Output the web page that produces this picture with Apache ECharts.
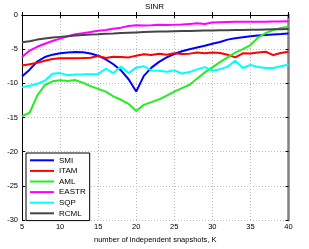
<!DOCTYPE html>
<html><head><meta charset="utf-8">
<script src="https://cdn.jsdelivr.net/npm/echarts@6/dist/echarts.min.js"></script>
<style>html,body{margin:0;padding:0;background:#fff}#c{width:309px;height:249px}</style>
</head><body><div id="c"></div>
<script>
var K = [5,6,7,8,9,10,11,12,13,14,15,16,17,18,19,20,21,22,23,24,25,26,27,28,29,30,31,32,33,34,35,36,37,38,39,40];
var SMI = [-9.0,-8.0,-6.8,-6.15,-5.8,-5.6,-5.48,-5.4,-5.45,-5.62,-5.95,-6.5,-7.2,-8.1,-9.4,-11.2,-8.9,-7.7,-6.85,-6.2,-5.7,-5.3,-5.0,-4.75,-4.5,-4.2,-3.95,-3.6,-3.4,-3.25,-3.1,-3.0,-2.92,-2.85,-2.78,-2.7];
var ITAM = [-7.38,-7.2,-7.0,-6.7,-6.45,-6.33,-6.33,-6.33,-6.3,-6.25,-6.0,-6.3,-6.1,-6.15,-6.2,-5.95,-5.75,-5.85,-5.67,-5.8,-5.6,-5.7,-5.65,-5.5,-5.6,-5.5,-5.55,-5.8,-6.2,-5.6,-5.62,-5.5,-5.38,-5.86,-5.55,-5.38];
var AML = [-14.8,-14.3,-11.8,-10.24,-9.7,-9.55,-9.65,-9.52,-9.9,-10.4,-10.8,-11.2,-11.9,-12.4,-13.0,-14.05,-13.15,-12.75,-12.35,-11.8,-11.2,-10.7,-10.2,-9.3,-8.4,-7.65,-6.9,-6.2,-5.5,-5.0,-4.4,-3.3,-2.65,-2.2,-1.9,-1.7];
var EASTR = [-6.15,-5.2,-4.65,-4.2,-3.8,-3.45,-3.1,-2.8,-2.65,-2.5,-2.3,-2.2,-2.0,-1.85,-1.6,-1.5,-1.52,-1.5,-1.43,-1.45,-1.42,-1.38,-1.3,-1.22,-1.33,-1.1,-1.05,-1.02,-1.0,-1.0,-1.0,-0.98,-0.97,-0.96,-0.95,-0.92];
var SQP = [-10.55,-10.35,-10.05,-9.6,-8.6,-8.5,-8.8,-8.7,-8.68,-8.65,-8.62,-7.86,-8.5,-7.55,-8.5,-7.7,-7.5,-8.1,-8.15,-8.3,-8.1,-8.55,-8.35,-7.95,-7.62,-8.15,-7.95,-7.55,-6.7,-7.75,-7.3,-7.6,-7.76,-7.76,-7.5,-7.24];
var RCML = [-4.0,-3.85,-3.6,-3.45,-3.3,-3.2,-3.1,-3.0,-2.92,-2.85,-2.8,-2.74,-2.7,-2.65,-2.6,-2.55,-2.5,-2.46,-2.42,-2.4,-2.37,-2.35,-2.33,-2.3,-2.28,-2.26,-2.24,-2.22,-2.2,-2.18,-2.16,-2.14,-2.12,-2.1,-2.08,-2.05];
var names = ['SMI','ITAM','AML','EASTR','SQP','RCML'];
var colors = ['#0000ff','#ff0000','#22ee22','#ff00ff','#00ffff','#454545'];
var values = [SMI, ITAM, AML, EASTR, SQP, RCML];
var title = 'SINR';
var xLabel = 'number of independent snapshots, K';

var FONT = 'Liberation Sans';
function pairs(v){ return K.map(function(k,i){ return [k, v[i]]; }); }
var series = names.map(function(n,i){
  return {name:n, type:'line', xAxisIndex:0, yAxisIndex:0, data:pairs(values[i]), symbol:'none',
    lineStyle:{color:colors[i], width:2}, itemStyle:{color:colors[i]}, z: 10+i, animation:false};
});
var chart = echarts.init(document.getElementById('c'), null, {renderer:'canvas'});
chart.setOption({
  animation:false,
  backgroundColor:'#fff',
  title:{text:title, left:'center', top:3, padding:0, textStyle:{fontFamily:FONT, fontSize:8, fontWeight:'normal', color:'#000'}},
  grid:{left:22, right:20.5, top:15, bottom:24, containLabel:false},
  legend:{orient:'vertical', left:26, top:153, data:names, icon:'rect', itemWidth:24, itemHeight:2, itemGap:0,
    padding:[2,4,2,4], backgroundColor:'#fff', borderColor:'#000', borderWidth:1, borderRadius:0,
    textStyle:{fontFamily:FONT, fontSize:8, color:'#000', lineHeight:10.6, padding:[0,0,0,0]}},
  xAxis:[
    {type:'value', min:5, max:40, interval:5, position:'bottom', name:xLabel, nameLocation:'middle', nameGap:14,
     nameTextStyle:{fontFamily:FONT, fontSize:7.5, color:'#000'},
     axisLine:{show:true, lineStyle:{color:'#000', width:1}},
     axisTick:{show:true, inside:true, length:3, lineStyle:{color:'#000'}},
     axisLabel:{fontFamily:FONT, fontSize:7.5, color:'#000', margin:3},
     splitLine:{show:true, lineStyle:{color:'#bbbbbb', type:[1,2], width:1}}},
    {type:'value', min:5, max:40, interval:5, position:'top',
     axisLine:{show:true, lineStyle:{color:'#000', width:1}},
     axisTick:{show:true, inside:true, length:3, lineStyle:{color:'#000'}},
     axisLabel:{show:false}, splitLine:{show:false}}
  ],
  yAxis:[
    {type:'value', min:-30, max:0, interval:5, position:'left',
     axisLine:{show:true, lineStyle:{color:'#000', width:1}},
     axisTick:{show:true, inside:true, length:3, lineStyle:{color:'#000'}},
     axisLabel:{fontFamily:FONT, fontSize:7.5, color:'#000', margin:4},
     splitLine:{show:true, lineStyle:{color:'#bbbbbb', type:[1,2], width:1}}},
    {type:'value', min:-30, max:0, interval:5, position:'right',
     axisLine:{show:true, lineStyle:{color:'#808080', width:2.5}},
     axisTick:{show:true, inside:true, length:3, lineStyle:{color:'#000'}},
     axisLabel:{show:false}, splitLine:{show:false}}
  ],
  series: series
});
</script></body></html>
